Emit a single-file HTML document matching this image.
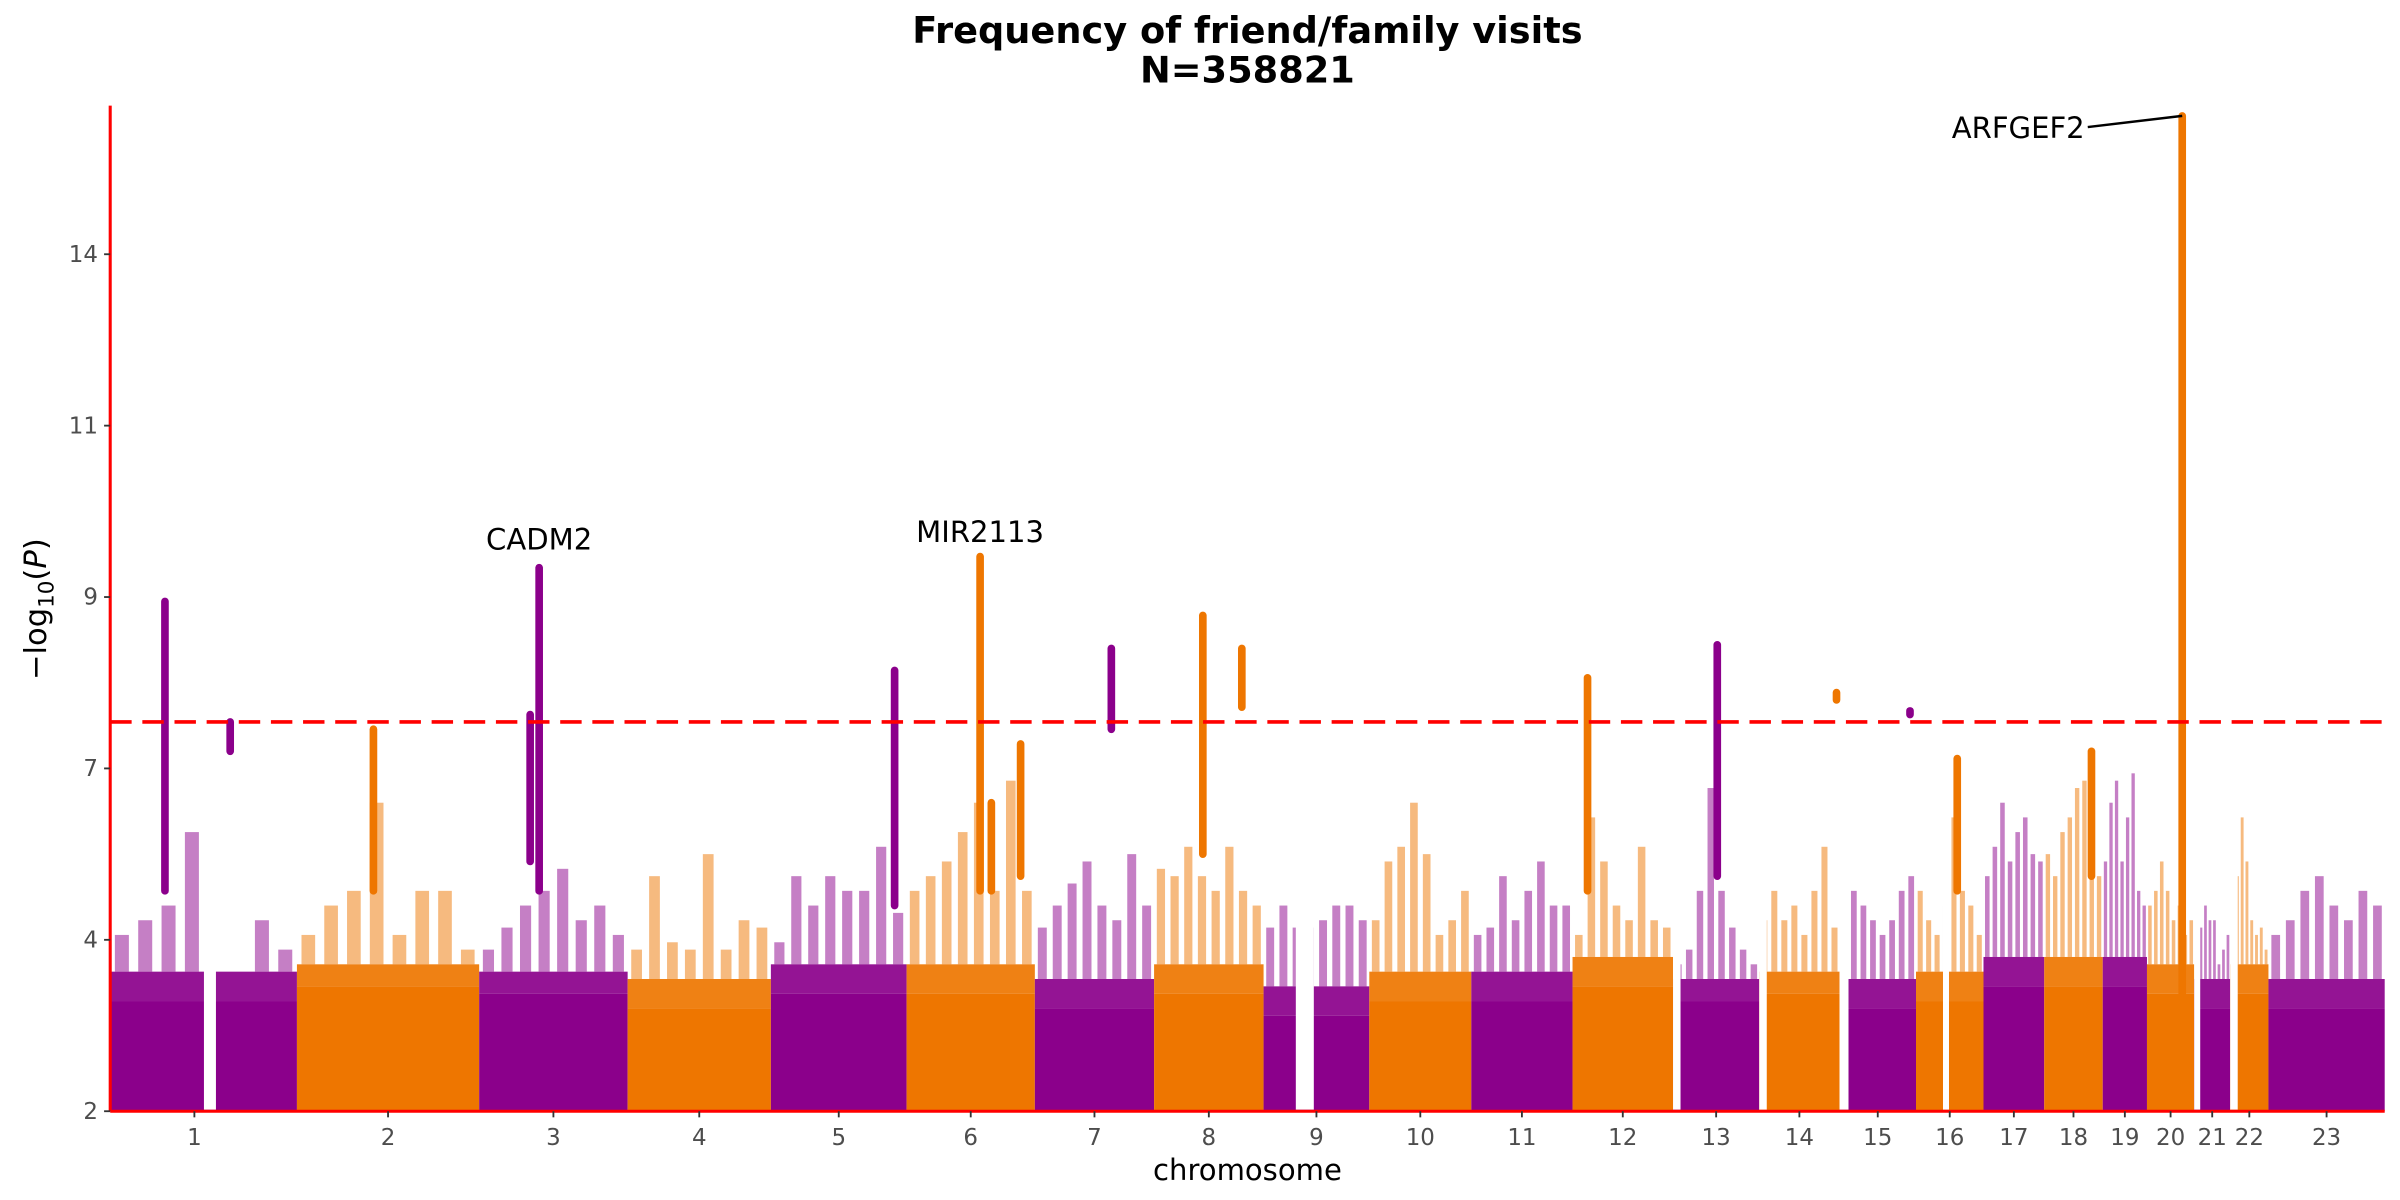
<!DOCTYPE html>
<html><head><meta charset="utf-8"><style>
html,body{margin:0;padding:0;background:#fff;}
svg{display:block;font-family:"DejaVu Sans","Liberation Sans",sans-serif;}
</style></head><body>
<svg id="chart" width="2400" height="1200" viewBox="0 0 1568 784" xmlns="http://www.w3.org/2000/svg">
<text x="815" y="28" text-anchor="middle" font-size="24" font-weight="bold">Frequency of friend/family visits</text>
<text x="815" y="54" text-anchor="middle" font-size="24" font-weight="bold">N=358821</text>
<g id="plot"></g>
<g id="axes"></g>
<text x="815" y="771" text-anchor="middle" font-size="19">chromosome</text>
<text transform="translate(30,398) rotate(-90)" text-anchor="middle" font-size="20">−log<tspan font-size="14" dy="5">10</tspan><tspan dy="-5">(</tspan><tspan font-style="italic">P</tspan>)</text>
</svg>
<script>
const chromNames=["1","2","3","4","5","6","7","8","9","10","11","12","13","14","15","16","17","18","19","20","21","22","23"];
const chromLenMb=[249,243,198,191,181,171,159,146,141,136,135,134,115,107,102,90,81,78,59,63,48,51,155];
const chromGaps=[[0,125,141],[8,43,67],[12,0,10],[13,0,10],[14,0,12],[15,36,44],[20,0,8],[21,0,10]];
const coreLevel=[3.5,3.7,3.6,3.4,3.6,3.6,3.4,3.6,3.3,3.5,3.5,3.7,3.5,3.6,3.4,3.5,3.7,3.7,3.7,3.6,3.4,3.6,3.4];
const midLevel=[3.9,4.0,3.9,3.8,4.0,4.0,3.8,4.0,3.7,3.9,3.9,4.1,3.8,3.9,3.8,3.9,4.1,4.1,4.1,4.0,3.8,4.0,3.8];
const fringeBins=[
[4.4,4.6,4.8,5.8,3.5,3.6,4.6,4.2],[4.4,4.8,5.0,6.2,4.4,5.0,5.0,4.2],[4.2,4.5,4.8,5.0,5.3,4.6,4.8,4.4],
[4.2,5.2,4.3,4.2,5.5,4.2,4.6,4.5],[4.3,5.2,4.8,5.2,5.0,5.0,5.6,4.7],[5.0,5.2,5.4,5.8,6.2,5.0,6.5,5.0],
[4.5,4.8,5.1,5.4,4.8,4.6,5.5,4.8],[5.3,5.2,5.6,5.2,5.0,5.6,5.0,4.8],[4.5,4.8,4.5,4.5,4.6,4.8,4.8,4.6],
[4.6,5.4,5.6,6.2,5.5,4.4,4.6,5.0],[4.4,4.5,5.2,4.6,5.0,5.4,4.8,4.8],[4.4,6.0,5.4,4.8,4.6,5.6,4.6,4.5],
[4.0,4.2,5.0,6.4,5.0,4.5,4.2,4.0],[4.6,5.0,4.6,4.8,4.4,5.0,5.6,4.5],[4.5,5.0,4.8,4.6,4.4,4.6,5.0,5.2],
[5.0,4.6,4.4,4.8,6.0,5.0,4.8,4.4],[5.2,5.6,6.2,5.4,5.8,6.0,5.5,5.4],[5.5,5.2,5.8,6.0,6.4,6.5,5.8,5.2],
[5.4,6.2,6.5,5.4,6.0,6.6,5.0,4.8],[4.8,5.0,5.4,5.0,4.6,4.8,4.4,4.6],[4.2,4.5,4.8,4.6,4.6,4.0,4.2,4.4],
[4.8,5.2,6.0,5.4,4.6,4.4,4.5,4.2],[4.4,4.6,5.0,5.2,4.8,4.6,5.0,4.8]];
/* hit columns: [chromIndex, Mb, lowP, highP] */
const hitCols=[[0,73,5.0,8.94],[0,160,6.9,7.3],[1,102,5.0,7.2],[2,68,5.4,7.4],[2,80,5.0,9.4],[4,165,4.8,8.0],
[5,98,5.0,9.55],[5,113,5.0,6.2],[5,152,5.2,7.0],[6,102,7.2,8.3],[7,65,5.5,8.75],[7,117,7.5,8.3],
[11,20,5.0,7.9],[12,59,5.2,8.35],[13,103,7.6,7.7],[14,94,7.4,7.45],[19,47,3.5,15.55],[17,63,5.2,6.9],[15,55,5.0,6.8]];
const labels=[["CADM2",2,80,9.65],["MIR2113",5,98,9.75]];
const ylo=2,yhi=15.69;
const X0=72,X1=1558,Y0=726,Y1=69;
const total=chromLenMb.reduce((a,b)=>a+b,0);
const starts=[];let acc=0;chromLenMb.forEach(l=>{starts.push(acc);acc+=l;});
function xs(c,mb){return X0+(starts[c]+mb)/total*(X1-X0);}
function ys(v){return Y0-(v-ylo)/(yhi-ylo)*(Y0-Y1);}
const NS="http://www.w3.org/2000/svg";
const plot=document.getElementById('plot'),axes=document.getElementById('axes');
function mk(tag,attrs,parent){const e=document.createElementNS(NS,tag);for(const k in attrs)e.setAttribute(k,attrs[k]);parent.appendChild(e);return e;}
const cols=["#8B008B","#EE7600"];
chromLenMb.forEach((len,c)=>{
  const g=mk('g',{},plot);
  
  
  const col=cols[c%2];
  const bins=fringeBins[c];const bw=len/bins.length;
  bins.forEach((v,j)=>{
    const xa=xs(c,j*bw),xb=xs(c,(j+1)*bw),w=xb-xa;
    const r=mk('rect',{x:xa+w*0.2,y:ys(v),width:w*0.6,height:ys(midLevel[c])-ys(v),fill:col,opacity:0.5},g);
    
    
  });
  const mid=mk('rect',{x:xs(c,0),y:ys(midLevel[c]),width:xs(c,len)-xs(c,0),height:ys(coreLevel[c])-ys(midLevel[c]),fill:col,opacity:0.92},g);
  
  
  const core=mk('rect',{x:xs(c,0),y:ys(coreLevel[c]),width:xs(c,len)-xs(c,0),height:Y0-ys(coreLevel[c]),fill:col},g);
  
  
});
chromGaps.forEach(gp=>{
  const r=mk('rect',{x:xs(gp[0],gp[1]),y:Y1,width:xs(gp[0],gp[2])-xs(gp[0],gp[1]),height:Y0-Y1-1,fill:"#fff"},plot);
  
  
});
hitCols.forEach(h=>{
  const l=mk('line',{x1:xs(h[0],h[1]),x2:xs(h[0],h[1]),y1:ys(h[2]),y2:ys(h[3]),stroke:cols[h[0]%2],'stroke-width':5,'stroke-linecap':'round'},plot);
  
  
});
const th=mk('line',{x1:X0,x2:X1,y1:ys(7.3),y2:ys(7.3),stroke:"#FF0000",'stroke-width':2.4,'stroke-dasharray':'14,7'},axes);


const ya=mk('line',{x1:X0,x2:X0,y1:Y1,y2:Y0,stroke:"#FF0000",'stroke-width':2},axes);


const xa=mk('line',{x1:X0,x2:X1,y1:Y0,y2:Y0,stroke:"#FF0000",'stroke-width':2},axes);


const yTickVals=[2,2+7/3,2+14/3,9,2+28/3,2+35/3];
yTickVals.forEach(v=>{
  const t=mk('line',{x1:X0-4,x2:X0,y1:ys(v),y2:ys(v),stroke:"#333",'stroke-width':1.2},axes);
  
  
  const tx=mk('text',{x:X0-8,y:ys(v)+5,'text-anchor':'end','font-size':15,fill:'#4d4d4d'},axes);
  tx.textContent=Math.round(v);
  
  
});
chromNames.forEach((n,c)=>{
  const cx=xs(c,chromLenMb[c]/2)-(c===0?6:0);
  const t=mk('line',{x1:cx,x2:cx,y1:Y0,y2:Y0+4,stroke:"#333",'stroke-width':1.2},axes);
  
  
  const tx=mk('text',{x:cx,y:Y0+22,'text-anchor':'middle','font-size':15,fill:'#4d4d4d'},axes);
  tx.textContent=n;
  
  
});
labels.forEach(L=>{
  const tx=mk('text',{x:xs(L[1],L[2]),y:ys(L[3]),'text-anchor':'middle','font-size':19},axes);
  tx.textContent=L[0];
  
  
});
const ax=xs(19,47),ay=ys(15.55);
const al=mk('line',{x1:1364,y1:83,x2:ax,y2:ay,stroke:"#000",'stroke-width':1.6},axes);


const at=mk('text',{x:1362,y:90,'text-anchor':'end','font-size':19},axes);
at.textContent="ARFGEF2";


</script>
</body></html>
